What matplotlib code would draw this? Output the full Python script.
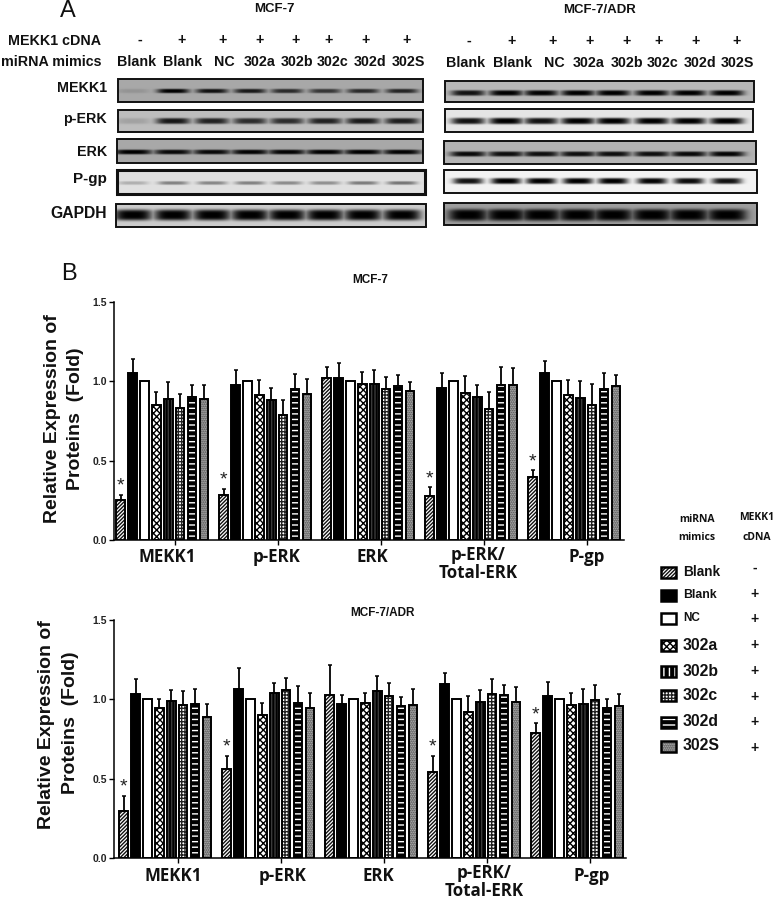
"""Western blot panels and fold-change bars for MEKK1 rescue in MCF-7 and MCF-7/ADR."""

import numpy as np
import matplotlib
matplotlib.use("Agg")
import matplotlib.pyplot as plt
from matplotlib.patches import Rectangle

W, H = 778, 900
ARIAL = "Liberation Sans"
KOREAN_LOOK = "Open Sans"

LANES = ["Blank", "Blank", "NC", "302a", "302b", "302c", "302d", "302S"]
CDNA = ["-", "+", "+", "+", "+", "+", "+", "+"]
PROTEINS = ["MEKK1", "p-ERK", "ERK", "P-gp", "GAPDH"]
GROUPS = ["MEKK1", "p-ERK", "ERK", "p-ERK/\nTotal-ERK", "P-gp"]
STARRED = [True, True, False, True, True]

# band strength per lane, read by eye from the blots
MCF7_BANDS = {
    "MEKK1": [0.12, 1.0, 0.90, 0.85, 0.75, 0.68, 0.75, 0.78],
    "p-ERK": [0.14, 0.88, 0.82, 0.76, 0.76, 0.82, 0.86, 0.84],
    "ERK": [1.0, 0.95, 0.95, 0.98, 0.98, 1.0, 1.0, 0.98],
    "P-gp": [0.22, 0.42, 0.40, 0.42, 0.38, 0.36, 0.45, 0.48],
    "GAPDH": [1.0, 1.0, 1.0, 1.0, 1.0, 1.0, 1.0, 1.0],
}
ADR_BANDS = {
    "MEKK1": [0.90, 1.0, 0.98, 1.0, 1.0, 1.0, 1.0, 1.0],
    "p-ERK": [0.92, 1.0, 0.92, 1.0, 1.0, 1.0, 1.0, 1.0],
    "ERK": [0.95, 0.92, 0.92, 0.92, 0.92, 0.92, 0.95, 0.98],
    "P-gp": [0.92, 1.0, 1.0, 1.0, 1.0, 0.98, 0.95, 0.92],
    "GAPDH": [1.0, 1.0, 1.0, 1.0, 1.0, 1.0, 1.0, 1.0],
}

# MCF-7 means and upper error tips, one row per series
MCF7_MEANS = [
    [0.25, 1.05, 1.00, 0.853, 0.89, 0.832, 0.90, 0.89],
    [0.286, 0.977, 1.00, 0.912, 0.882, 0.79, 0.952, 0.922],
    [1.023, 1.02, 1.00, 0.983, 0.983, 0.952, 0.97, 0.94],
    [0.277, 0.958, 1.00, 0.928, 0.90, 0.828, 0.98, 0.98],
    [0.40, 1.053, 1.00, 0.912, 0.895, 0.853, 0.952, 0.97],
]
MCF7_TOPS = [
    [0.284, 1.14, 1.00, 0.933, 0.994, 0.92, 0.977, 0.98],
    [0.324, 1.07, 1.00, 1.008, 0.956, 0.882, 1.048, 1.015],
    [1.092, 1.118, 1.00, 1.06, 1.07, 1.03, 1.038, 0.994],
    [0.334, 1.055, 1.00, 1.034, 0.98, 0.93, 1.092, 1.084],
    [0.44, 1.128, 1.00, 1.006, 1.002, 0.983, 1.05, 1.038],
]
ADR_MEANS = [
    [0.298, 1.032, 1.00, 0.948, 0.988, 0.967, 0.969, 0.889],
    [0.558, 1.063, 1.00, 0.90, 1.038, 1.06, 0.98, 0.948],
    [1.026, 0.971, 1.00, 0.975, 1.055, 1.02, 0.955, 0.965],
    [0.545, 1.095, 1.00, 0.92, 0.984, 1.036, 1.026, 0.982],
    [0.789, 1.024, 1.00, 0.967, 0.973, 0.994, 0.948, 0.957],
]
ADR_TOPS = [
    [0.392, 1.126, 1.00, 1.005, 1.061, 1.055, 1.063, 0.973],
    [0.646, 1.196, 1.00, 0.975, 1.105, 1.135, 1.087, 1.04],
    [1.217, 1.03, 1.00, 1.043, 1.15, 1.10, 1.017, 1.066],
    [0.646, 1.168, 1.00, 1.024, 1.061, 1.13, 1.093, 1.08],
    [0.85, 1.112, 1.00, 1.043, 1.068, 1.093, 1.0, 1.034],
]

# (face, hatch, hatch colour) per series
STYLES = [
    ("white", "/////////", "#111111"),
    ("black", None, None),
    ("white", None, None),
    ("white", "xxxxx", "black"),
    ("black", "|||||", "#3a3a3a"),
    ("white", "+++++", "#222222"),
    ("black", "---", "white"),
    ("#c8c8c8", "........", "#303030"),
]

plt.rcParams["hatch.linewidth"] = 1.0
plt.rcParams["font.family"] = ARIAL

fig = plt.figure(figsize=(W / 100, H / 100), dpi=100)
page = fig.add_axes([0, 0, 1, 1])
page.set_xlim(0, W)
page.set_ylim(H, 0)
page.axis("off")


def draw_blot(rect, lanes, band_y, strengths, half_w, half_t, bg, edge=1.4):
    x0, x1, y0, y1 = rect
    xx, yy = np.meshgrid(np.linspace(x0, x1, (x1 - x0) * 3), np.linspace(y0, y1, (y1 - y0) * 3))
    dark = np.zeros_like(xx)
    for cx, s in zip(lanes, strengths):
        dark = np.maximum(dark, s * np.exp(-((xx - cx) / half_w) ** 4 - ((yy - band_y) / half_t) ** 4))
    page.imshow(bg * (1 - np.clip(dark, 0, 1)), cmap="gray", vmin=0, vmax=1, extent=(x0, x1, y1, y0),
                aspect="auto", interpolation="bilinear", zorder=1)
    page.add_patch(Rectangle((x0, y0), x1 - x0, y1 - y0, fill=False, ec="#111111", lw=edge, zorder=2))


MCF7_LANE_X = [133, 173, 212, 250, 287, 325, 363, 402]
ADR_LANE_X = [468, 506, 541, 578, 613, 652, 689, 727]
# x0, x1, y0, y1, band y, band half width, band half thickness, background
MCF7_BLOTS = {
    "MEKK1": (118, 423, 79, 102, 91, 16, 2.2, 0.66),
    "p-ERK": (118, 423, 110, 132, 121, 17, 3.0, 0.74),
    "ERK": (117, 423, 139, 163, 152, 19, 2.4, 0.66),
    "P-gp": (117, 425, 170, 194, 183, 15, 1.8, 0.88),
    "GAPDH": (116, 426, 204, 227, 215, 19, 5.5, 0.80),
}
ADR_BLOTS = {
    "MEKK1": (445, 754, 81, 102, 93, 17, 2.8, 0.72),
    "p-ERK": (445, 753, 109, 132, 121, 17, 3.2, 0.90),
    "ERK": (444, 756, 141, 164, 154, 18, 2.6, 0.70),
    "P-gp": (444, 757, 170, 193, 181, 15, 3.0, 0.95),
    "GAPDH": (444, 757, 203, 225, 215, 20, 6.0, 0.62),
}

for name in PROTEINS:
    x0, x1, y0, y1, by, hw, ht, bg = MCF7_BLOTS[name]
    # the MCF-7 P-gp strip has a heavier frame in the original
    draw_blot((x0, x1, y0, y1), MCF7_LANE_X, by, MCF7_BANDS[name], hw, ht, bg,
              edge=2.2 if name == "P-gp" else 1.4)
    x0, x1, y0, y1, by, hw, ht, bg = ADR_BLOTS[name]
    draw_blot((x0, x1, y0, y1), ADR_LANE_X, by, ADR_BANDS[name], hw, ht, bg)
page.set_xlim(0, W)
page.set_ylim(H, 0)


def label(x, y, s, size=10, weight="bold", ha="center", family=ARIAL, color="#111111", **kw):
    page.text(x, y, s, fontsize=size, fontweight=weight, ha=ha, va="center",
              family=family, color=color, zorder=5, **kw)


# panel A text
label(68, 11, "A", size=17, weight="normal")
label(274, 9, "MCF-7", size=9.5)
label(600, 10, "MCF-7/ADR", size=9.5)
label(55, 41, "MEKK1 cDNA", size=10.3)
label(51, 62, "miRNA mimics", size=10.3)

MCF7_LABEL_X = [137, 183, 224, 260, 297, 333, 370, 408]
MCF7_SIGN_X = [140, 182, 223, 260, 296, 329, 366, 407]
ADR_LABEL_X = [466, 513, 554, 589, 627, 663, 700, 737]
ADR_SIGN_X = [469, 512, 553, 590, 627, 659, 696, 737]
for i in range(8):
    label(MCF7_LABEL_X[i], 62, LANES[i], size=10.3)
    label(MCF7_SIGN_X[i], 40, CDNA[i], size=10.3)
    label(ADR_LABEL_X[i], 63, LANES[i], size=10.3)
    label(ADR_SIGN_X[i], 41, CDNA[i], size=10.3)

ROW_Y = [88, 119, 152, 179, 213]
ROW_SIZE = [10.3, 10.3, 10.3, 11, 11.3]
for name, y, size in zip(PROTEINS, ROW_Y, ROW_SIZE):
    label(107, y, name, size=size, ha="right")

label(69, 274, "B", size=17, weight="normal")


def draw_swatch(x, y, w, h, style):
    face, hatch, hcolor = style
    page.add_patch(Rectangle((x, y), w, h, fc=face, ec=hcolor or "black", hatch=hatch, lw=0, zorder=3))
    page.add_patch(Rectangle((x, y), w, h, fill=False, ec="black", lw=1.8, zorder=4))


def draw_bars(rect, first_bar, means, tops, tick_shift=4.56):
    left, right, top, bottom = rect
    ax = fig.add_axes([left / W, 1 - bottom / H, (right - left) / W, (bottom - top) / H])
    ax.patch.set_visible(False)
    step = 11.9
    ax.set_xlim(0, (right - left) / step)
    ax.set_ylim(0, 1.5)

    starts = []
    for g in range(len(GROUPS)):
        start = (first_bar - left) / step + g * 103 / step
        starts.append(start)
        for i, style in enumerate(STYLES):
            face, hatch, hcolor = style
            xpos = start + i
            ax.bar(xpos, means[g][i], width=0.72, color=face, edgecolor=hcolor or "black",
                   hatch=hatch, linewidth=0, zorder=2)
            ax.bar(xpos, means[g][i], width=0.72, fill=False, edgecolor="black",
                   linewidth=1.4, zorder=3)
            if tops[g][i] > means[g][i]:
                ax.errorbar(xpos, means[g][i], yerr=[[0], [tops[g][i] - means[g][i]]], color="black",
                            elinewidth=1.3, capsize=1.6, capthick=1.1, zorder=1)
            if i == 0 and STARRED[g]:
                ax.annotate("*", (xpos, tops[g][i]), xytext=(0, 0), textcoords="offset points",
                            ha="center", va="bottom", fontsize=14, color="#222222")

    ax.set_xticks([s + tick_shift for s in starts])
    ax.set_xticklabels([])
    ax.set_yticks([0.0, 0.5, 1.0, 1.5])
    ax.set_yticklabels(["0.0", "0.5", "1.0", "1.5"], fontsize=7.5, fontweight="bold", color="#222222")
    ax.tick_params(axis="both", width=1.0, length=3.5, pad=1.5)
    for spine in ("top", "right"):
        ax.spines[spine].set_visible(False)
    for spine in ("left", "bottom"):
        ax.spines[spine].set_linewidth(1.1)
    return ax


draw_bars((114, 624, 302, 540), 120.7, MCF7_MEANS, MCF7_TOPS)
draw_bars((114, 626, 620, 858), 123.7, ADR_MEANS, ADR_TOPS)

label(370, 280, "MCF-7", size=8.5)
label(383, 613, "MCF-7/ADR", size=8.5)

# y axis titles
label(53, 419, "Relative Expression of", size=14, rotation=90)
label(76, 419, "Proteins  (Fold)", size=14, rotation=90)
label(47, 725, "Relative Expression of", size=14, rotation=90)
label(71, 723, "Proteins  (Fold)", size=14, rotation=90)

# group names sit off the ticks in the original, so they are placed by hand
TOP_GROUP_X = [167, 277, 372, 478, 587]
LOW_GROUP_X = [173, 283, 378, 484, 592]
for name, xa, xb in zip(GROUPS, TOP_GROUP_X, LOW_GROUP_X):
    ya, yb = (564, 882) if "\n" in name else (557, 876)
    group_text = dict(size=12.2, family=KOREAN_LOOK, linespacing=1.05)
    label(xa, ya, name, **group_text)
    label(xb, yb, name, **group_text)

# legend block
label(697, 519, "miRNA", size=7.5, family=KOREAN_LOOK)
label(697, 538, "mimics", size=7.5, family=KOREAN_LOOK)
label(757, 518, "MEKK1", size=7.5, family=KOREAN_LOOK)
label(757, 537, "cDNA", size=7.5, family=KOREAN_LOOK)

LEGEND_Y = [572, 595, 618, 645, 671, 695, 722, 746]
LEGEND_SIZE = [9.8, 8.8, 8.5, 11.3, 11.3, 11.3, 11.3, 11.3]
SIGN_Y = [568, 594, 619, 645, 671, 697, 722, 748]
for i, style in enumerate(STYLES):
    swatch = ("black", "|||", "white") if i == 4 else style
    draw_swatch(661, LEGEND_Y[i] - 5.5, 15, 11, swatch)
    label(683, LEGEND_Y[i], LANES[i], size=LEGEND_SIZE[i], ha="left")
    label(755, SIGN_Y[i], CDNA[i], size=10)

fig.savefig("out.png", dpi=100)
